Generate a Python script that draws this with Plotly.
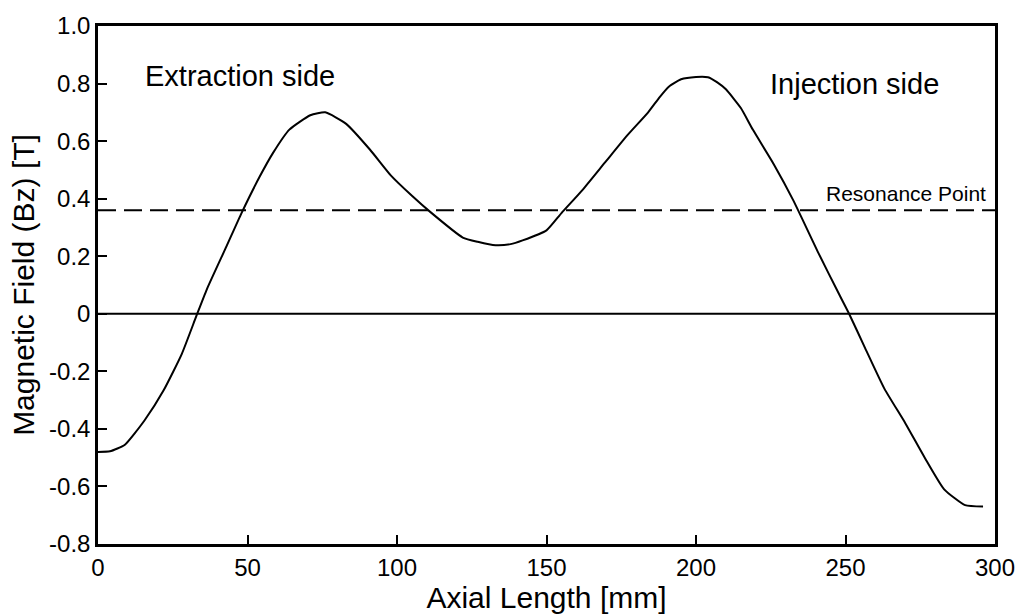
import plotly.graph_objects as go

# Data
axial_mm = [0, 4, 9, 15.6, 22, 28, 33, 36.4, 43, 48, 54, 58.6, 64, 71, 76, 83, 91, 98,
            105, 111, 122, 127, 133, 138, 142, 150, 155, 162, 169.5, 177, 184, 188, 191,
            195, 200, 204, 207, 210, 215, 219, 226, 232.5, 241, 248, 251.2, 256.6, 263,
            270, 276.5, 283, 290, 296]
bz_tesla = [-0.48, -0.478, -0.455, -0.37, -0.265, -0.14, -0.005, 0.085, 0.235, 0.35,
            0.475, 0.56, 0.64, 0.69, 0.70, 0.66, 0.57, 0.48, 0.41, 0.355, 0.265, 0.25,
            0.238, 0.242, 0.255, 0.29, 0.35, 0.43, 0.525, 0.62, 0.70, 0.755, 0.79, 0.815,
            0.823, 0.822, 0.805, 0.78, 0.715, 0.64, 0.52, 0.395, 0.21, 0.065, 0.0, -0.12,
            -0.26, -0.38, -0.50, -0.61, -0.665, -0.67]
resonance_value = 0.36
zero_value = 0.0
x_range = [0, 300]
y_range = [-0.8, 1.0]
x_ticks = [0, 50, 100, 150, 200, 250, 300]
y_ticks = [1.0, 0.8, 0.6, 0.4, 0.2, 0.0, -0.2, -0.4, -0.6, -0.8]
y_tick_labels = ["1.0", "0.8", "0.6", "0.4", "0.2", "0", "-0.2", "-0.4", "-0.6", "-0.8"]

fig = go.Figure()

fig.add_trace(go.Scatter(x=x_range, y=[zero_value, zero_value], mode="lines",
                         line=dict(color="black", width=2), hoverinfo="skip"))
fig.add_trace(go.Scatter(x=x_range, y=[resonance_value, resonance_value], mode="lines",
                         line=dict(color="black", width=2, dash="18px,8px"), hoverinfo="skip"))
fig.add_trace(go.Scatter(x=axial_mm, y=bz_tesla, mode="lines",
                         line=dict(color="black", width=2, shape="spline", smoothing=0.5)))

tick_font = dict(family="Liberation Sans Narrow, Liberation Sans, Arial", size=24, color="black")
text_font = dict(family="Liberation Sans, Arial", size=29, color="black")

fig.update_xaxes(range=x_range, tickvals=x_ticks, ticks="inside", ticklen=9, tickwidth=2,
                 tickcolor="black", showline=True, linecolor="black", linewidth=2.5,
                 mirror=True, showgrid=False, zeroline=False, tickfont=tick_font,
                 title=dict(text="Axial Length [mm]", font=dict(family="Liberation Sans, Arial", size=30, color="black"), standoff=2))
fig.update_yaxes(range=y_range, tickvals=y_ticks, ticktext=y_tick_labels, ticks="inside",
                 ticklen=9, tickwidth=2, tickcolor="black", showline=True, linecolor="black",
                 linewidth=2.5, mirror=True, showgrid=False, zeroline=False, tickfont=tick_font,
                 title=dict(text="Magnetic Field (Bz) [T]", font=dict(family="Liberation Sans, Arial", size=30, color="black"), standoff=6))

fig.add_annotation(x=15, y=0.825, xref="x", yref="y", text="Extraction side", showarrow=False,
                   xanchor="left", yanchor="middle", font=text_font)
fig.add_annotation(x=224, y=0.80, xref="x", yref="y", text="Injection side", showarrow=False,
                   xanchor="left", yanchor="middle", font=text_font)
fig.add_annotation(x=300, y=resonance_value, xref="x", yref="y", text="Resonance Point",
                   showarrow=False, xanchor="right", yanchor="bottom", xshift=-7, yshift=3,
                   font=dict(family="Liberation Sans, Arial", size=21, color="black"))

fig.update_layout(width=1027, height=616, margin=dict(l=98, r=22, t=25, b=69),
                  paper_bgcolor="white", plot_bgcolor="white", showlegend=False)

fig.write_html("out.html")
